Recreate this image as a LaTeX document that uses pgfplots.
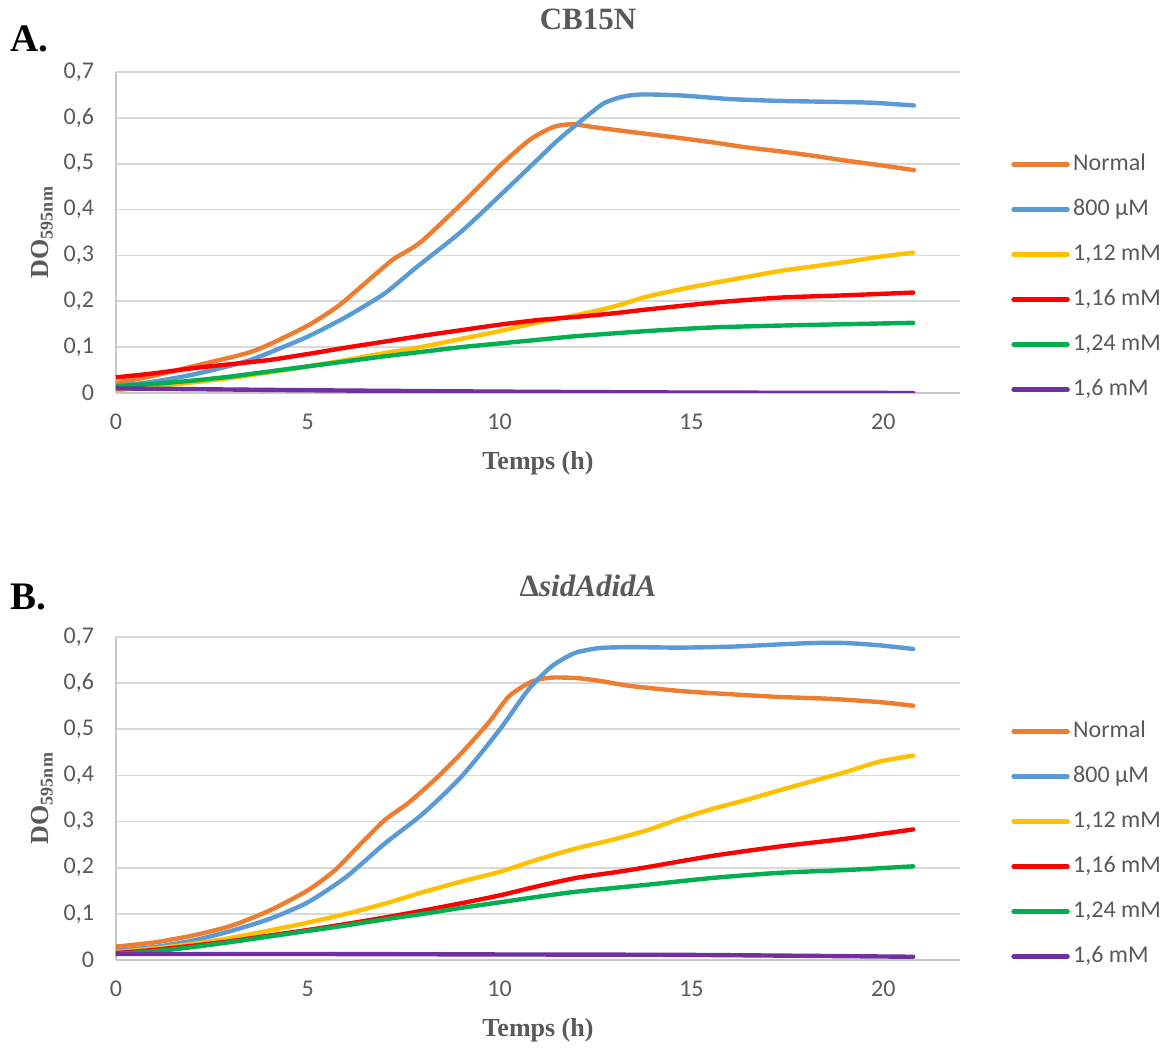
\documentclass[border=0pt]{standalone}
\usepackage{pgfplots}
\pgfplotsset{compat=1.18}
\usepackage{fontspec}
\setmainfont{Liberation Serif}
\setsansfont{Carlito}
\definecolor{cOr}{HTML}{ED7D31}
\definecolor{cBl}{HTML}{5B9BD5}
\definecolor{cYe}{HTML}{FFC000}
\definecolor{cRe}{HTML}{FF0000}
\definecolor{cGr}{HTML}{00B050}
\definecolor{cPu}{HTML}{7030A0}
\definecolor{gridc}{HTML}{D9D9D9}
\definecolor{axc}{HTML}{C8C8C8}
\definecolor{tickc}{HTML}{595959}
\definecolor{titc}{HTML}{595959}

\pgfplotsset{myaxis/.style={
  scale only axis, width=422pt, anchor=south west,
  xmin=0, xmax=22, ymin=0, ymax=0.7,
  xtick={0,5,10,15,20}, ytick={0,0.1,0.2,0.3,0.4,0.5,0.6,0.7},
  ymajorgrids, grid style={color=gridc, line width=0.9pt},
  axis x line*=bottom, axis y line*=left,
  axis line style={color=axc, line width=0.9pt},
  major tick length=0pt, tick style={draw=none},
  ticklabel style={font=\sffamily\fontsize{12}{14}\selectfont, text=tickc},
  yticklabel style={xshift=-7.5pt, /pgf/number format/.cd, use comma, fixed, precision=1},
  xticklabel style={yshift=-7pt},
  /pgf/number format/assume math mode=true,
  xlabel={Temps (h)},
  xlabel style={font=\bfseries\fontsize{13}{15}\selectfont, text=titc, at={(axis description cs:0.5,0)}, anchor=center, yshift=-35pt},
  ylabel={DO\raisebox{-0.35ex}{\fontsize{9}{10}\selectfont 595nm}},
  ylabel style={font=\bfseries\fontsize{13}{15}\selectfont, text=titc, at={(axis description cs:-0.0877,0.5)}, anchor=center},
  legend style={draw=none, fill=none, anchor=west, inner sep=0pt,
     font=\sffamily\fontsize{12}{14}\selectfont, text=tickc,
     row sep=10.5pt, column sep=0pt,
     nodes={inner sep=0.5pt, text height=8.5pt, text depth=2.5pt}},
  legend cell align=left,
  legend image code/.code={\draw[#1, line width=2.2pt, line cap=round] (0pt,0pt) -- (27pt,0pt); \path (28.2pt,0pt);},
  every axis plot/.append style={line width=2.2pt, smooth, tension=0.4, mark=none, line cap=round, line join=round},
}}

\begin{document}
\begin{tikzpicture}
\path (0pt,0pt) rectangle (584pt,522.5pt);

% ---------------- A ----------------
\begin{axis}[myaxis, at={(58pt,326pt)}, height=160.5pt,
  legend style={at={(1.0604,0.361)}}]
\addplot[cOr] coordinates {(0,0.022) (1,0.038) (2,0.058) (3,0.078) (3.5,0.089) (4,0.106) (5,0.147) (5.8,0.19) (6.5,0.24) (7.2,0.29) (7.6,0.31) (8,0.333) (9,0.412) (10,0.495) (10.8,0.553) (11.4,0.58) (11.9,0.586) (12.6,0.578) (13.65,0.567) (14.7,0.556) (15.6,0.546) (16.4,0.536) (17.3,0.527) (18.2,0.517) (19,0.507) (19.9,0.497) (20.8,0.486)};
\addplot[cBl] coordinates {(0,0.015) (1,0.025) (2,0.04) (3,0.06) (3.5,0.072) (4,0.088) (5,0.123) (6,0.166) (7,0.217) (7.8,0.272) (9,0.352) (10,0.43) (11,0.51) (11.5,0.55) (12.1,0.592) (12.7,0.631) (13.2,0.646) (13.7,0.651) (14.7,0.649) (16,0.641) (17.3,0.637) (18.6,0.635) (19.7,0.633) (20.8,0.627)};
\addplot[cYe] coordinates {(0,0.006) (1,0.014) (2,0.023) (3,0.033) (4,0.045) (5,0.058) (6,0.072) (7,0.087) (8,0.101) (9,0.118) (10,0.135) (11,0.154) (12,0.17) (12.96,0.188) (13.83,0.21) (14.7,0.226) (15.57,0.24) (16.43,0.253) (17.3,0.266) (18.17,0.276) (19.04,0.286) (19.9,0.297) (20.78,0.306)};
\addplot[cRe] coordinates {(0,0.034) (1,0.043) (2,0.054) (3,0.063) (4,0.072) (5,0.085) (6,0.099) (7,0.112) (8,0.125) (9,0.137) (10,0.149) (11,0.159) (12,0.166) (13,0.174) (13.83,0.182) (15.57,0.197) (17.3,0.208) (19,0.213) (20.78,0.219)};
\addplot[cGr] coordinates {(0,0.015) (1,0.02) (2,0.027) (3,0.036) (4,0.047) (5,0.058) (6,0.069) (7,0.08) (8,0.09) (9,0.1) (10,0.108) (11,0.116) (12,0.124) (13.83,0.135) (15.57,0.143) (17.3,0.147) (19,0.15) (20.78,0.153)};
\addplot[cPu] coordinates {(0,0.01) (5,0.006) (10,0.003) (15,0.001) (20.78,0.0)};
\legend{Normal, 800 µM, {1,12 mM}, {1,16 mM}, {1,24 mM}, {1,6 mM}}
\end{axis}

% ---------------- B ----------------
\begin{axis}[myaxis, at={(58pt,42.5pt)}, height=161.5pt,
  legend style={at={(1.0604,0.359)}}]
\addplot[cOr] coordinates {(0,0.029) (1,0.038) (2,0.053) (3,0.074) (4,0.107) (5,0.151) (5.7,0.194) (6.3,0.245) (7,0.303) (7.6,0.339) (8.3,0.39) (9,0.448) (9.7,0.513) (10.25,0.572) (10.85,0.604) (11.35,0.612) (12,0.611) (12.6,0.605) (13.4,0.594) (14.7,0.583) (16,0.576) (17.3,0.57) (18.6,0.566) (19.9,0.559) (20.78,0.551)};
\addplot[cBl] coordinates {(0,0.02) (1,0.028) (2,0.042) (3,0.063) (4,0.089) (5,0.125) (6,0.18) (7,0.252) (8,0.317) (9,0.397) (10,0.499) (10.75,0.586) (11.35,0.636) (11.95,0.665) (12.6,0.676) (13.4,0.678) (14.7,0.677) (16,0.679) (17.3,0.684) (18.2,0.687) (19,0.687) (19.9,0.682) (20.78,0.674)};
\addplot[cYe] coordinates {(0,0.017) (1,0.025) (2,0.035) (3,0.048) (4,0.064) (5,0.081) (6,0.1) (7,0.122) (8,0.147) (9,0.17) (10,0.191) (11,0.218) (12,0.242) (12.96,0.261) (13.83,0.281) (14.7,0.306) (15.57,0.328) (16.43,0.347) (17.3,0.368) (18.17,0.388) (19.04,0.408) (19.9,0.43) (20.78,0.443)};
\addplot[cRe] coordinates {(0,0.015) (1,0.022) (2,0.031) (3,0.041) (4,0.053) (5,0.065) (6,0.078) (7,0.092) (8,0.107) (9,0.123) (10,0.14) (11,0.16) (12,0.178) (13,0.19) (13.83,0.201) (15.57,0.226) (17.3,0.246) (19.04,0.263) (20.78,0.283)};
\addplot[cGr] coordinates {(0,0.013) (1,0.019) (2,0.028) (3,0.039) (4,0.051) (5,0.063) (6,0.075) (7,0.088) (8,0.1) (9,0.113) (10,0.125) (11,0.137) (12,0.148) (13.83,0.163) (15.57,0.178) (17.3,0.189) (19.04,0.195) (20.78,0.203)};
\addplot[cPu] coordinates {(0,0.013) (5,0.013) (10,0.012) (15,0.011) (20.78,0.007)};
\legend{Normal, 800 µM, {1,12 mM}, {1,16 mM}, {1,24 mM}, {1,6 mM}}
\end{axis}

\node[anchor=base, font=\bfseries\fontsize{15.5}{17}\selectfont, text=titc] at (294pt,507.5pt) {CB15N};
\node[anchor=base west, inner sep=0pt, font=\bfseries\fontsize{19.5}{21}\selectfont] at (5pt,496.5pt) {A.};
\node[anchor=base, font=\bfseries\fontsize{15.5}{17}\selectfont, text=titc] at (294pt,224pt) {Δ\textit{sidAdidA}};
\node[anchor=base west, inner sep=0pt, font=\bfseries\fontsize{19.5}{21}\selectfont] at (5pt,217.5pt) {B.};
\end{tikzpicture}
\end{document}
